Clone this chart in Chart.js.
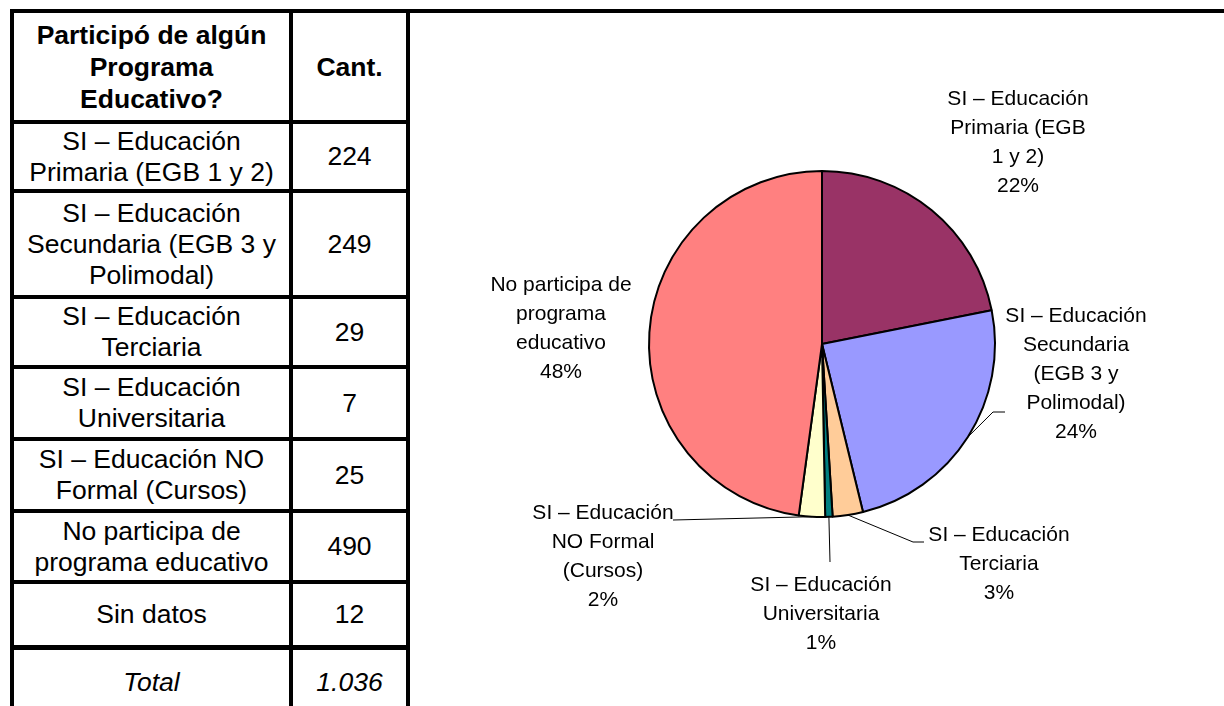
<!DOCTYPE html>
<html lang="es">
<head>
<meta charset="utf-8">
<script src="https://cdn.jsdelivr.net/npm/chart.js@4.4.1/dist/chart.umd.min.js"></script>
<style>
    html, body { margin: 0; padding: 0; background: #fff; width: 1224px; height: 706px; overflow: hidden; }
    body { position: relative; font-family: 'Liberation Sans', Arial, sans-serif; color: #000; }
    #topRule { position: absolute; left: 10px; top: 9px; width: 1214px; height: 4px; background: #000; }
    #dataTable { position: absolute; left: 10px; top: 13px; width: 400px; height: 693px; box-sizing: border-box;
                 border-left: 4px solid #000; border-right: 4px solid #000; }
    .row { display: flex; box-sizing: border-box; border-bottom: 4px solid #000; }
    .cell { display: flex; align-items: center; justify-content: center; text-align: center;
            font-size: 26.5px; line-height: 31px; box-sizing: border-box; }
    .c1 { width: 279px; border-right: 4px solid #000; padding: 0 2px; }
    .c2 { flex: 1; }
    .head .cell { font-weight: bold; line-height: 32px; }
    .total .cell { font-style: italic; }
    #pieCanvas { position: absolute; left: 422px; top: 13px; }
</style>
</head>
<body>
<div id="topRule"></div>
<div id="dataTable"></div>
<canvas id="pieCanvas" width="800" height="662"></canvas>
<script>
// 表のデータ
const headerLabels = ['Participó de algún Programa Educativo?', 'Cant.'];
const categories = [
    'SI – Educación Primaria (EGB 1 y 2)',
    'SI – Educación Secundaria (EGB 3 y Polimodal)',
    'SI – Educación Terciaria',
    'SI – Educación Universitaria',
    'SI – Educación NO Formal (Cursos)',
    'No participa de programa educativo',
    'Sin datos',
];
const counts = [224, 249, 29, 7, 25, 490, 12];
const totalLabels = ['Total', '1.036'];

// 円グラフのデータ（「Sin datos」は除外）
const pieCategories = categories.slice(0, 6);
const pieValues = counts.slice(0, 6);
const pieLabelLines = [
    ['SI – Educación', 'Primaria (EGB', '1 y 2)'],
    ['SI – Educación', 'Secundaria', '(EGB 3 y', 'Polimodal)'],
    ['SI – Educación', 'Terciaria'],
    ['SI – Educación', 'Universitaria'],
    ['SI – Educación', 'NO Formal', '(Cursos)'],
    ['No participa de', 'programa', 'educativo'],
];
const pieColors = ['#993366', '#9999FF', '#FFCC99', '#008080', '#FFFFCC', '#FF8080'];

// 行の高さ（レイアウト用）
const rowHeights = [111, 69, 106, 70, 72, 72, 71, 66, 64];

// ラベル位置：円の中心からの距離、引き出し線はラベル中心からの相対位置
const labelLayout = [
    { dx: 196, dy: -201, leader: null },
    { dx: 254, dy: 30, leader: [[-83, 38], [-71, 38]] },
    { dx: 177, dy: 220, leader: [[-86, -22], [-75, -22]] },
    { dx: -1, dy: 270, leader: [[9, -52]] },
    { dx: -219, dy: 213, leader: [[70, -37]] },
    { dx: -261, dy: -15, leader: null },
];

// 表を組み立てる
const table = document.getElementById('dataTable');
const addRow = (cells, height, cls, borderPx) => {
    const row = document.createElement('div');
    row.className = 'row ' + (cls || '');
    row.style.height = height + 'px';
    if (borderPx !== undefined) row.style.borderBottomWidth = borderPx + 'px';
    cells.forEach((text, i) => {
        const cell = document.createElement('div');
        cell.className = 'cell ' + (i === 0 ? 'c1' : 'c2');
        cell.textContent = text;
        row.appendChild(cell);
    });
    table.appendChild(row);
};
addRow(headerLabels, rowHeights[0], 'head');
categories.forEach((cat, i) => {
    addRow([cat, String(counts[i])], rowHeights[i + 1], '', i === categories.length - 1 ? 5 : undefined);
});
// 合計行（下罫線なし、高さは画面下端まで）
addRow(totalLabels, rowHeights[rowHeights.length - 1], 'total', 0);
table.lastChild.querySelectorAll('.cell').forEach((c) => (c.style.height = '100%'));
const filler = document.createElement('div');
filler.style.cssText = 'position:absolute;left:275px;top:637px;width:4px;height:60px;background:#000;';
table.appendChild(filler);

// ラベル描画プラグイン
const pieTotal = pieValues.reduce((a, b) => a + b, 0);
const labelPlugin = {
    id: 'sliceLabels',
    afterDatasetsDraw: (chart) => {
        const ctx = chart.ctx;
        const meta = chart.getDatasetMeta(0);
        const lineHeight = 29;
        ctx.save();
        ctx.font = "21px 'Liberation Sans', Arial, sans-serif";
        ctx.fillStyle = '#000';
        ctx.strokeStyle = '#000';
        ctx.lineWidth = 1;
        ctx.textAlign = 'center';
        ctx.textBaseline = 'middle';
        meta.data.forEach((arc, i) => {
            const p = arc.getProps(['x', 'y', 'startAngle', 'endAngle', 'outerRadius'], true);
            const layout = labelLayout[i];
            const cx = p.x + layout.dx;
            const cy = p.y + layout.dy;
            if (layout.leader) {
                const mid = (p.startAngle + p.endAngle) / 2;
                ctx.beginPath();
                ctx.moveTo(p.x + Math.cos(mid) * p.outerRadius, p.y + Math.sin(mid) * p.outerRadius);
                layout.leader.forEach(([lx, ly]) => ctx.lineTo(cx + lx, cy + ly));
                ctx.stroke();
            }
            const pct = Math.round((pieValues[i] / pieTotal) * 100) + '%';
            const lines = pieLabelLines[i].concat([pct]);
            const top = cy - ((lines.length - 1) * lineHeight) / 2;
            lines.forEach((line, k) => ctx.fillText(line, cx, top + k * lineHeight));
        });
        ctx.restore();
    },
};

new Chart(document.getElementById('pieCanvas').getContext('2d'), {
    type: 'pie',
    data: {
        labels: pieCategories,
        datasets: [
            {
                data: pieValues,
                backgroundColor: pieColors,
                borderColor: '#000000',
                borderWidth: 2,
            },
        ],
    },
    options: {
        responsive: false,
        devicePixelRatio: 1,
        animation: false,
        radius: 173,
        layout: { padding: 0 },
        plugins: {
            legend: { display: false },
            tooltip: { enabled: false },
        },
    },
    plugins: [labelPlugin],
});
</script>
</body>
</html>
